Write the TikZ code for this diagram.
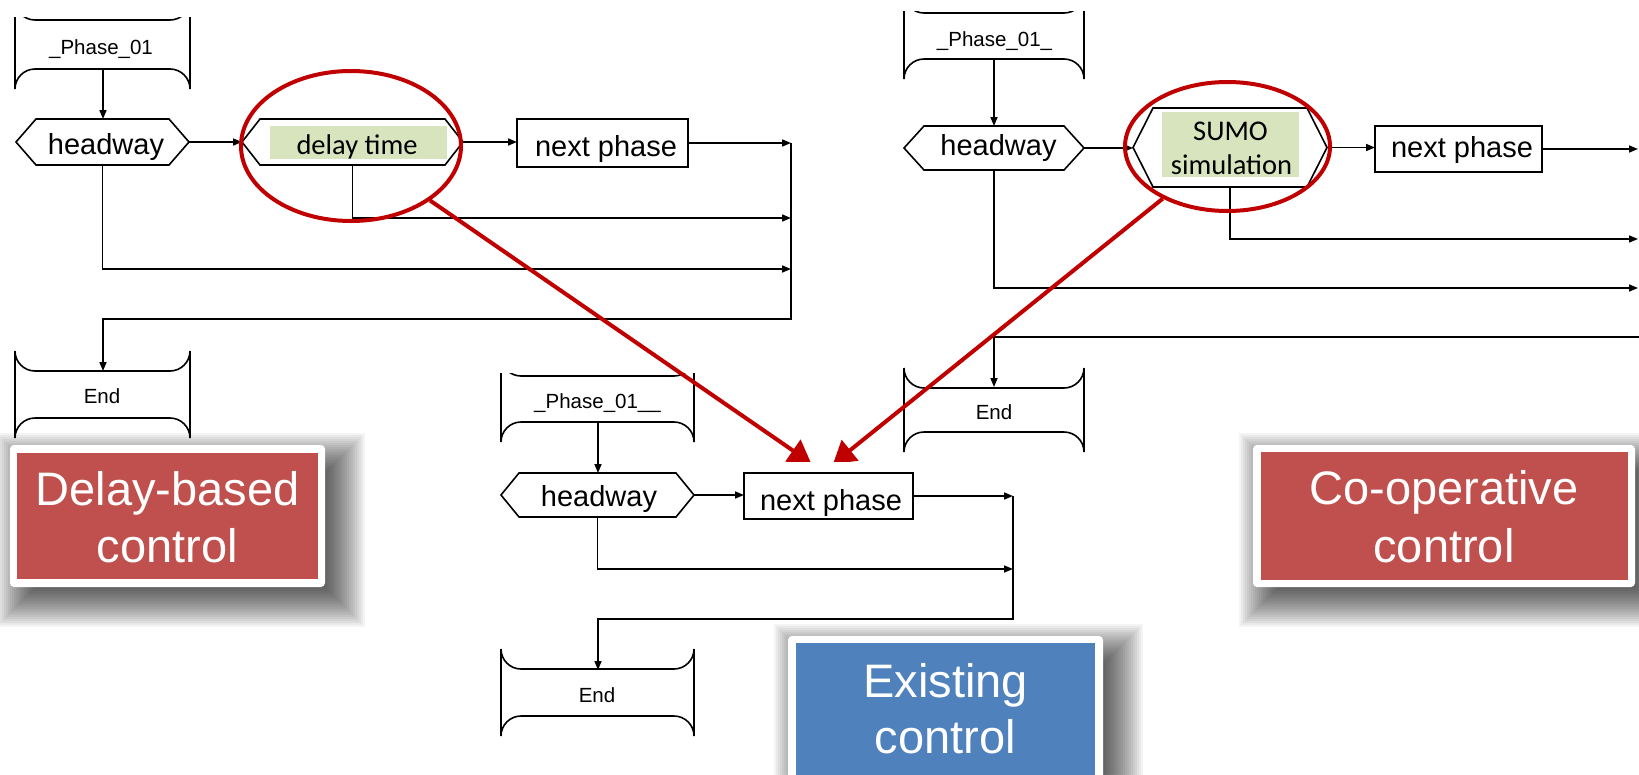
\documentclass[tikz,border=0pt]{standalone}
\usepackage{fontspec}
\setmainfont{Liberation Sans}
\newfontfamily\carlito{Carlito}
\usetikzlibrary{arrows.meta,shapes.geometric}
\definecolor{boxred}{HTML}{C0504D}
\definecolor{boxblue}{HTML}{4F81BD}
\definecolor{ringred}{HTML}{C00000}
\definecolor{hlgreen}{HTML}{D7E4BD}
% brace-ended box: L R T B (outer extents), arcs of 20
\newcommand\bracepath[4]{%
  \draw[flow] (#1,#3) .. controls (#1,#3+11) and (#1+9,#3+20) .. (#1+20,#3+20) -- (#2-20,#3+20) .. controls (#2-9,#3+20) and (#2,#3+11) .. (#2,#3)
    (#1,#3) -- (#1,#4) (#2,#3) -- (#2,#4)
    (#1,#4) .. controls (#1,#4-11) and (#1+9,#4-20) .. (#1+20,#4-20) -- (#2-20,#4-20) .. controls (#2-9,#4-20) and (#2,#4-11) .. (#2,#4);}
% hexagon outline around a named node, cut #2
\newcommand\hexdraw[2]{%
  \draw[flow,line join=miter] (#1.west) -- ([xshift=#2pt]#1.north west) -- ([xshift=-#2pt]#1.north east) -- (#1.east)
    -- ([xshift=-#2pt]#1.south east) -- ([xshift=#2pt]#1.south west) -- cycle;}
% soft shadow behind a box x1 y1 x2 y2
\newcommand\softshadow[4]{%
  \foreach \i in {0,...,20}{%
    \fill[black,opacity=0.042] ({#1+6+20-2*\i},{#2+8+20-2*\i}) rectangle ({#3+20-20+2*\i},{#4+20-20+2*\i});}}
\begin{document}
\begin{tikzpicture}[x=1pt,y=-1pt,
  flow/.style={line width=1.6pt,black},
  arr/.style={flow,-{Triangle[length=9pt,width=7pt]}},
  redarr/.style={ringred,line width=4pt,-{Triangle[length=22pt,width=26pt]}},
  hexnode/.style={inner sep=0pt,outer sep=0pt},
  boxnode/.style={draw,line width=1.6pt,inner sep=0pt,outer sep=0pt},
  ring/.style={draw=ringred,line width=4pt,ellipse,inner sep=0pt},
  lab/.style={inner sep=0pt,anchor=base,font=\fontsize{29}{34}\selectfont},
  mid/.style={inner sep=0pt,anchor=base,font=\fontsize{20.5}{24}\selectfont},
  grn/.style={inner sep=0pt,anchor=base,font=\carlito\fontsize{28.5}{34}\selectfont},
  big/.style={inner sep=0pt,anchor=base,text=white,font=\fontsize{47}{57}\selectfont}]
\useasboundingbox (0,0) rectangle (1639,774);
\clip (0,0) rectangle (1639,774);
\fill[white] (0,0) rectangle (1639,774);

% shadows
\softshadow{10}{445}{325}{587}
\softshadow{1253}{445}{1635}{587}
\softshadow{788}{636}{1103}{800}

% ---------------- left flowchart ----------------
\begin{scope}\clip (0,17) rectangle (300,100); \bracepath{15}{190}{0}{89} \end{scope}
\node[mid] (p1t) at (101,54) {\_Phase\_01};
\coordinate (p1out) at (103,68);
\node[hexnode,minimum width=173pt,minimum height=46pt] (h1) at (102.5,142) {};
\hexdraw{h1}{20}
\node[lab] (h1t) at (106,154) {headway};
\node[hexnode,minimum width=221pt,minimum height=46pt] (d1) at (352.5,142) {};
\fill[hlgreen] (270,126) rectangle (447,159);
\hexdraw{d1}{18}
\node[grn] (d1t) at (357,154) {delay time};
\node[boxnode,minimum width=171pt,minimum height=48pt] (n1) at (602.5,143) {};
\node[lab] (n1t) at (606,156) {next phase};
\bracepath{15}{190}{351}{438}
\node[mid] (en1t) at (102,403) {End};
\coordinate (en1in) at (103,371);
\coordinate (k1) at (791,319);
\coordinate (j1) at (791,218);
\coordinate (j2) at (791,269);
\draw[arr] (p1out) -- (p1out |- h1.north);
\draw[arr] (h1.east) -- (d1.west);
\draw[arr] (d1.east) -- (d1.east -| n1.west);
\draw[arr] (n1.east) -- (n1.east -| k1);
\draw[arr] (d1.south) |- (j1);
\draw[arr] (h1.south) |- (j2);
\draw[arr] (k1 |- n1.east) -- (k1) -| (en1in);

% ---------------- middle flowchart ----------------
\begin{scope}\clip (480,373) rectangle (720,460); \bracepath{501}{694}{356}{442} \end{scope}
\node[mid] (p2t) at (597.5,408) {\_Phase\_01\_\_};
\coordinate (p2out) at (598,422);
\node[hexnode,minimum width=193pt,minimum height=44pt] (h2) at (597.5,495) {};
\hexdraw{h2}{18}
\node[lab] (h2t) at (599,506) {headway};
\node[boxnode,minimum width=169pt,minimum height=46pt] (n2) at (828.5,496) {};
\node[lab] (n2t) at (831,510) {next phase};
\bracepath{501}{694}{649}{736}
\node[mid] (en2t) at (597,702) {End};
\coordinate (en2in) at (598,670);
\coordinate (k2) at (1013,619);
\coordinate (j3) at (1013,569);
\draw[arr] (p2out) -- (p2out |- h2.north);
\draw[arr] (h2.east) -- (h2.east -| n2.west);
\draw[arr] (n2.east) -- (n2.east -| k2);
\draw[arr] (h2.south) |- (j3);
\draw[arr] (k2 |- n2.east) -- (k2) -| (en2in);

% ---------------- right flowchart ----------------
\begin{scope}\clip (880,11) rectangle (1110,100); \bracepath{904}{1084}{-7}{79} \end{scope}
\node[mid] (p3t) at (994.5,46) {\_Phase\_01\_};
\coordinate (p3out) at (994,59);
\node[hexnode,minimum width=180pt,minimum height=44pt] (h3) at (994,148) {};
\hexdraw{h3}{20}
\node[lab] (h3t) at (998.5,155) {headway};
\node[hexnode,minimum width=194pt,minimum height=79pt] (s3) at (1230,147.5) {};
\fill[hlgreen] (1162,112) rectangle (1299,177);
\hexdraw{s3}{20}
\node[grn] (s3ta) at (1230.5,140) {SUMO};
\node[grn] (s3tb) at (1231.5,174) {simulation};
\node[boxnode,minimum width=167pt,minimum height=46pt] (n3) at (1458.5,149) {};
\node[lab] (n3t) at (1462,157) {next phase};
\bracepath{904}{1084}{368}{452}
\node[mid] (en3t) at (994,419) {End};
\coordinate (en3in) at (994,387);
\coordinate (r1) at (1638,149);
\coordinate (r2) at (1638,239);
\coordinate (r3) at (1638,288);
\coordinate (r4) at (1645,337);
\draw[arr] (p3out) -- (p3out |- h3.north);
\draw[arr] (h3.east) -- (h3.east -| s3.west);
\draw[arr] (s3.east) -- (s3.east -| n3.west);
\draw[arr] (n3.east) -- (r1);
\draw[arr] (s3.south) |- (r2);
\draw[arr] (h3.south) |- (r3);
\draw[arr] (r4) -| (en3in);

% ---------------- red highlight rings and arrows ----------------
\node[ring,minimum width=220pt,minimum height=150pt] (e1) at (351,146) {};
\node[ring,minimum width=205pt,minimum height=129pt] (e3) at (1227.5,146.5) {};
\coordinate (t1) at (811,463);
\coordinate (t2) at (833,464);
\begin{scope}
  \clip (0,0) rectangle (1639,461);
  \draw[redarr] (e1) -- (t1);
  \draw[redarr] (e3) -- (t2);
\end{scope}

% ---------------- labels ----------------
\fill[white,rounded corners=4pt] (10,445) rectangle (325,587);
\fill[boxred] (17,453) rectangle (318,579);
\node[big] (l1a) at (167.5,505) {Delay-based};
\node[big] (l1b) at (167.5,562) {control};

\fill[white,rounded corners=4pt] (1253,445) rectangle (1635,587);
\fill[boxred] (1261,452) rectangle (1628,580);
\node[big] (l2a) at (1444,504) {Co-operative};
\node[big] (l2b) at (1444,562) {control};

\fill[white,rounded corners=4pt] (788,636) rectangle (1103,800);
\fill[boxblue] (796,643) rectangle (1095,800);
\node[big] (l3a) at (945.5,697) {Existing};
\node[big] (l3b) at (945.5,753) {control};
\end{tikzpicture}
\end{document}
